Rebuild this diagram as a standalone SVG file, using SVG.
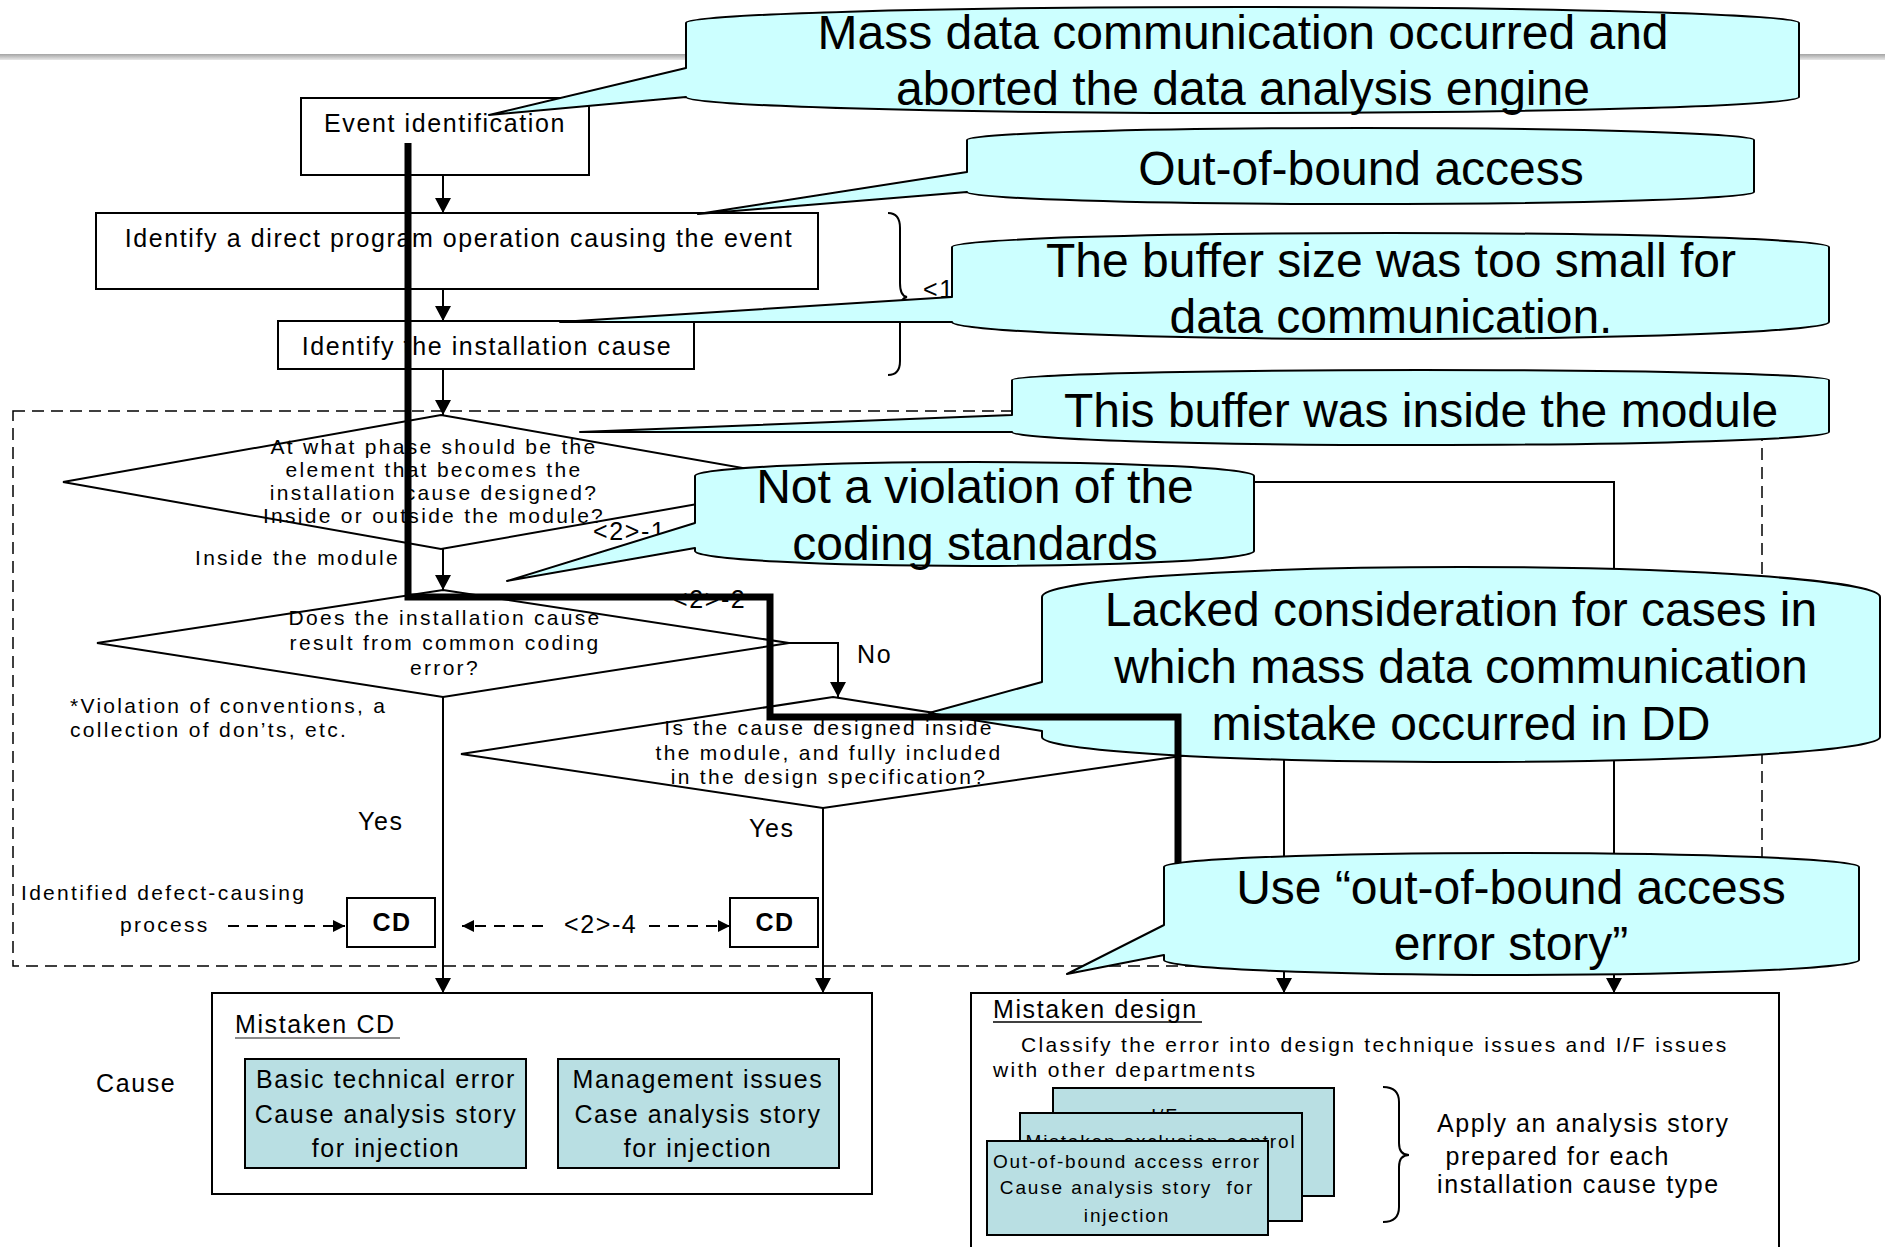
<svg xmlns="http://www.w3.org/2000/svg" width="1885" height="1247" viewBox="0 0 1885 1247">
  <defs>
    <linearGradient id="hdr" x1="0" y1="0" x2="0" y2="1">
      <stop offset="0" stop-color="#a4a4a4"/>
      <stop offset="1" stop-color="#e8e8e8"/>
    </linearGradient>
    <marker id="ah" viewBox="0 0 15 16" refX="15" refY="8" markerWidth="15" markerHeight="16" markerUnits="userSpaceOnUse" orient="auto">
      <path d="M0,0 L15,8 L0,16 z" fill="#000"/>
    </marker>
    <marker id="ahs" viewBox="0 0 12 12" refX="12" refY="6" markerWidth="12" markerHeight="12" markerUnits="userSpaceOnUse" orient="auto">
      <path d="M0,0 L12,6 L0,12 z" fill="#000"/>
    </marker>
    <style>
      text { font-family: "Liberation Sans", Arial, sans-serif; fill: #000; }
      .t18 { font-size: 19px; letter-spacing: 1.85px; }
      .t20 { font-size: 21px; letter-spacing: 2.3px; }
      .t24 { font-size: 25px; letter-spacing: 1.6px; }
      .big { font-size: 48px; }
      .cd { font-size: 25px; font-weight: bold; letter-spacing: 1.5px; }
      .mid { text-anchor: middle; }
      .box { fill: #fff; stroke: #000; stroke-width: 2; }
      .teal { fill: #b9dfe3; stroke: #000; stroke-width: 2; }
      .dia { fill: #fff; stroke: #000; stroke-width: 2; }
      .ln { fill: none; stroke: #000; stroke-width: 2; }
      .arr { marker-end: url(#ah); }
      .dash { fill: none; stroke: #000; stroke-width: 2; stroke-dasharray: 11 8; marker-end: url(#ahs); }
      .frame { fill: none; stroke: #000; stroke-width: 1.5; stroke-dasharray: 12 7; }
      .callout { fill: #ccffff; stroke: #000; stroke-width: 2; stroke-linejoin: round; }
      .route { fill: none; stroke: #000; stroke-width: 7; stroke-linejoin: miter; }
    </style>
  </defs>

  <!-- page header rule -->
  <rect x="0" y="54" width="1885" height="6" fill="url(#hdr)"/>

  <!-- dashed frame around the decision area -->
  <rect class="frame" x="13" y="411" width="1749" height="555"/>

  <!-- flow nodes -->
  <g id="event">
    <rect class="box" x="301" y="98" width="288" height="77"/>
    <text class="t24 mid" x="445" y="132">Event identification</text>
  </g>
  <g id="direct-op">
    <rect class="box" x="96" y="213" width="722" height="76"/>
    <text class="t24 mid" x="459" y="247">Identify a direct program operation causing the event</text>
  </g>
  <g id="install-cause">
    <rect class="box" x="278" y="321" width="416" height="48"/>
    <text class="t24 mid" x="487" y="355">Identify the installation cause</text>
  </g>
  <g id="q-phase">
    <polygon class="dia" points="441,415 823,482 441,549 63,482"/>
    <text class="t20 mid" x="434" y="454">At what phase should be the</text>
    <text class="t20 mid" x="434" y="477">element that becomes the</text>
    <text class="t20 mid" x="434" y="500">installation cause designed?</text>
    <text class="t20 mid" x="434" y="523">Inside or outside the module?</text>
  </g>
  <g id="q-coding">
    <polygon class="dia" points="443,590 789,643 443,697 97,643"/>
    <text class="t20 mid" x="445" y="625">Does the installation cause</text>
    <text class="t20 mid" x="445" y="650">result from common coding</text>
    <text class="t20 mid" x="445" y="675">error?</text>
  </g>
  <g id="q-design">
    <polygon class="dia" points="833,697 1195,754 823,808 461,754"/>
    <text class="t20 mid" x="829" y="735">Is the cause designed inside</text>
    <text class="t20 mid" x="829" y="760">the module, and fully included</text>
    <text class="t20 mid" x="829" y="784">in the design specification?</text>
  </g>
  <g id="cd-left">
    <rect class="box" x="347" y="898" width="88" height="49"/>
    <text class="cd mid" x="392" y="931">CD</text>
  </g>
  <g id="cd-right">
    <rect class="box" x="730" y="898" width="88" height="49"/>
    <text class="cd mid" x="775" y="931">CD</text>
  </g>
  <g id="mistaken-cd">
    <rect class="box" x="212" y="993" width="660" height="201"/>
    <text class="t24" x="235" y="1033">Mistaken CD</text>
    <line x1="235" y1="1038" x2="400" y2="1038" stroke="#666" stroke-width="1.5"/>
    <rect class="teal" x="245" y="1059" width="281" height="109"/>
    <text class="t24 mid" x="386" y="1088">Basic technical error</text>
    <text class="t24 mid" x="386" y="1123">Cause analysis story</text>
    <text class="t24 mid" x="386" y="1157">for injection</text>
    <rect class="teal" x="558" y="1059" width="281" height="109"/>
    <text class="t24 mid" x="698" y="1088">Management issues</text>
    <text class="t24 mid" x="698" y="1123">Case analysis story</text>
    <text class="t24 mid" x="698" y="1157">for injection</text>
  </g>
  <g id="mistaken-design">
    <rect class="box" x="971" y="993" width="808" height="300"/>
    <text class="t24" x="993" y="1018">Mistaken design</text>
    <line x1="993" y1="1022" x2="1202" y2="1022" stroke="#000" stroke-width="1.5"/>
    <text class="t20" x="1021" y="1052">Classify the error into design technique issues and I/F issues</text>
    <text class="t20" x="993" y="1077">with other departments</text>
    <rect class="teal" x="1053" y="1088" width="281" height="108"/>
    <text class="t18 mid" x="1193" y="1122">I/F error</text>
    <rect class="teal" x="1020" y="1113" width="282" height="108"/>
    <text class="t18 mid" x="1161" y="1148">Mistaken exclusion control</text>
    <rect class="teal" x="987" y="1141" width="281" height="94"/>
    <text class="t18 mid" x="1127" y="1168">Out-of-bound access error</text>
    <text class="t18 mid" x="1127" y="1194" xml:space="preserve">Cause analysis story  for</text>
    <text class="t18 mid" x="1127" y="1222">injection</text>
    <path class="ln" d="M1383,1087 Q1399,1087 1399,1102 L1399,1143 Q1399,1155 1409,1155 Q1399,1155 1399,1167 L1399,1207 Q1399,1222 1383,1222"/>
    <text class="t24" x="1437" y="1132">Apply an analysis story</text>
    <text class="t24" x="1437" y="1165" xml:space="preserve"> prepared for each</text>
    <text class="t24" x="1437" y="1193">installation cause type</text>
  </g>

  <!-- free labels -->
  <g id="labels">
    <text class="t20" x="195" y="565">Inside the module</text>
    <text class="t20" x="70" y="713">*Violation of conventions, a</text>
    <text class="t20" x="70" y="737">collection of don’ts, etc.</text>
    <text class="t24" x="857" y="663">No</text>
    <text class="t24" x="358" y="830">Yes</text>
    <text class="t24" x="749" y="837">Yes</text>
    <text class="t20" x="21" y="900">Identified defect-causing</text>
    <text class="t20" x="120" y="932">process</text>
    <text class="t24" x="564" y="933">&lt;2&gt;-4</text>
    <text class="t24" x="96" y="1092">Cause</text>
    <text class="t24" x="593" y="540">&lt;2&gt;-1</text>
    <text class="t24" x="673" y="608">&lt;2&gt;-2</text>
    <text class="t24" x="923" y="298">&lt;1</text>
    <path class="ln" d="M888,213 Q900,213 900,228 L900,283 Q900,296 907,297 Q900,298 900,311 L900,361 Q900,375 888,375"/>
  </g>

  <!-- connectors -->
  <g id="connectors">
    <line class="ln arr" x1="443" y1="175" x2="443" y2="213"/>
    <line class="ln arr" x1="443" y1="289" x2="443" y2="321"/>
    <line class="ln arr" x1="443" y1="369" x2="443" y2="415"/>
    <line class="ln arr" x1="443" y1="549" x2="443" y2="590"/>
    <polyline class="ln arr" points="789,643 838,643 838,697"/>
    <line class="ln arr" x1="443" y1="697" x2="443" y2="993"/>
    <line class="ln arr" x1="823" y1="808" x2="823" y2="993"/>
    <polyline class="ln arr" points="823,482 1614,482 1614,993"/>
    <polyline class="ln arr" points="1195,754 1284,754 1284,993"/>
    <line class="dash" x1="228" y1="926" x2="345" y2="926"/>
    <line class="dash" x1="543" y1="926" x2="462" y2="926"/>
    <line class="dash" x1="649" y1="926" x2="730" y2="926"/>
  </g>

  <!-- annotation callouts -->
  <g id="note-abort">
    <path class="callout" d="M686,68 L489,115 L686,97 A556.5,16 0 0 0 1799,97 L1799,23 A556.5,16 0 0 0 686,23 Z"/>
    <text class="big mid" x="1243" y="49">Mass data communication occurred and</text>
    <text class="big mid" x="1243" y="105">aborted the data analysis engine</text>
  </g>
  <g id="note-oob">
    <path class="callout" d="M967,172 L698,214 L967,192 A393.5,12 0 0 0 1754,192 L1754,140 A393.5,12 0 0 0 967,140 Z"/>
    <text class="big mid" x="1361" y="185">Out-of-bound access</text>
  </g>
  <g id="note-buffer">
    <path class="callout" d="M952,297 L560,322 L952,322 A438.5,17 0 0 0 1829,322 L1829,247 A438.5,14 0 0 0 952,247 Z"/>
    <text class="big mid" x="1391" y="277">The buffer size was too small for</text>
    <text class="big mid" x="1391" y="333">data communication.</text>
  </g>
  <g id="note-inside">
    <path class="callout" d="M1012,415 L580,432 L1012,432 A408.5,13 0 0 0 1829,432 L1829,380 A408.5,10 0 0 0 1012,380 Z"/>
    <text class="big mid" x="1421" y="427">This buffer was inside the module</text>
  </g>
  <g id="note-violation">
    <path class="callout" d="M695,523 L507,581 L695,548 L695,551 A279.5,15 0 0 0 1254,551 L1254,476 A279.5,14 0 0 0 695,476 Z"/>
    <text class="big mid" x="975" y="503">Not a violation of the</text>
    <text class="big mid" x="975" y="560">coding standards</text>
  </g>
  <g id="note-lacked">
    <path class="callout" d="M1042,682 L929,713 L1042,731 L1042,737 A419,25 0 0 0 1880,737 L1880,597 A419,30 0 0 0 1042,597 Z"/>
    <text class="big mid" x="1461" y="626">Lacked consideration for cases in</text>
    <text class="big mid" x="1461" y="683">which mass data communication</text>
    <text class="big mid" x="1461" y="740">mistake occurred in DD</text>
  </g>

  <!-- highlighted analysis route -->
  <path class="route" d="M408,143 V597 H770 V717 H1178 V870"/>

  <g id="note-story">
    <path class="callout" d="M1164,925 L1067,974 L1164,955 L1164,960 A347.5,15 0 0 0 1859,960 L1859,867 A347.5,14 0 0 0 1164,867 Z"/>
    <text class="big mid" x="1511" y="904">Use “out-of-bound access</text>
    <text class="big mid" x="1511" y="960">error story”</text>
  </g>
</svg>
